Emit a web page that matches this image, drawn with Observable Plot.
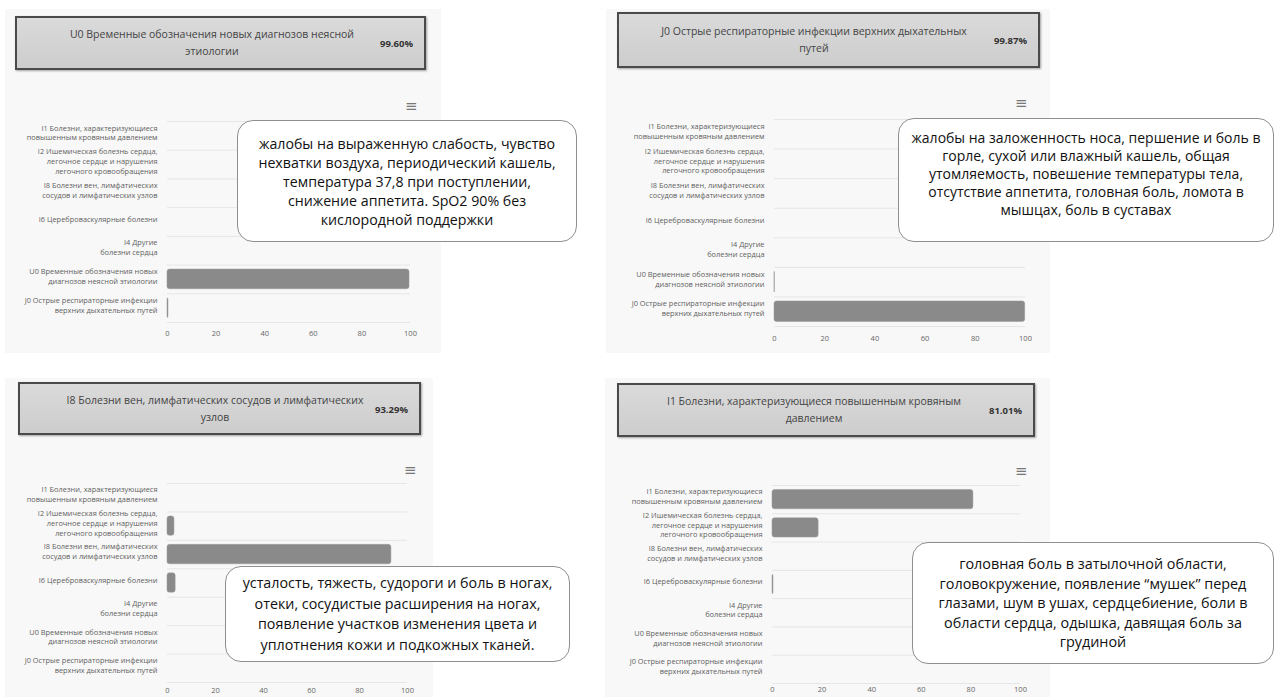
<!DOCTYPE html>
<html><head><meta charset="utf-8">
<script src="https://cdn.jsdelivr.net/npm/d3@7"></script>
<script src="https://cdn.jsdelivr.net/npm/@observablehq/plot@0.6"></script>
<style>
html,body{margin:0;padding:0;background:#fff}
body{width:1275px;height:697px;overflow:hidden;position:relative;font-family:"Open Sans",sans-serif}
.panel{position:absolute;background:#f8f8f8}
.title{position:absolute;box-sizing:border-box;border:2px solid #4a4a4a;background:linear-gradient(#dadada,#cdcdcd);box-shadow:1px 1px 2px rgba(0,0,0,.35);color:#444;font-size:10.5px}
.title .t{position:absolute;top:50%;transform:translateY(-50%);text-align:center;line-height:17px;white-space:pre-line}
.title .p{position:absolute;top:50%;transform:translateY(-50%);font-weight:bold;font-size:9.5px;color:#333}
.menu{position:absolute;color:#777;font-family:"DejaVu Sans",sans-serif;font-size:15px;line-height:15px}
.note{position:absolute;box-sizing:border-box;background:#fff;border:1px solid #8f8f8f;border-radius:16px;display:flex;align-items:center;justify-content:center;text-align:center;font-size:14px;color:#111;white-space:pre-line}
svg.chart{position:absolute;overflow:visible}
</style></head><body>
<script>
// ---- data ----
const categories = [
  "I1 Болезни, характеризующиеся\nповышенным кровяным давлением",
  "I2 Ишемическая болезнь сердца,\nлегочное сердце и нарушения\nлегочного кровообращения",
  "I8 Болезни вен, лимфатических\nсосудов и лимфатических узлов",
  "I6 Цереброваскулярные болезни",
  "I4 Другие\nболезни сердца",
  "U0 Временные обозначения новых\nдиагнозов неясной этиологии",
  "J0 Острые респираторные инфекции\nверхних дыхательных путей"
];
const xTicks = [0, 20, 40, 60, 80, 100];

const valuesU0 = [0, 0, 0, 0, 0, 99.60, 0.40];
const valuesJ0 = [0, 0, 0, 0, 0, 0.13, 99.87];
const valuesI8 = [0, 2.9, 93.29, 3.4, 0, 0, 0];
const valuesI1 = [81.01, 18.6, 0, 0.39, 0, 0, 0];

const titles = [
  "U0 Временные обозначения новых диагнозов неясной\nэтиологии",
  "J0 Острые респираторные инфекции верхних дыхательных\nпутей",
  "I8 Болезни вен, лимфатических сосудов и лимфатических\nузлов",
  "I1 Болезни, характеризующиеся повышенным кровяным\nдавлением"
];
const percents = ["99.60%", "99.87%", "93.29%", "81.01%"];
const notes = [
  "жалобы на выраженную слабость, чувство\nнехватки воздуха, периодический кашель,\nтемпература 37,8 при поступлении,\nснижение аппетита. SpO2 90% без\nкислородной поддержки",
  "жалобы на заложенность носа, першение и боль в\nгорле, сухой или влажный кашель, общая\nутомляемость, повешение температуры тела,\nотсутствие аппетита, головная боль, ломота в\nмышцах, боль в суставах",
  "усталость, тяжесть, судороги и боль в ногах,\nотеки, сосудистые расширения на ногах,\nпоявление участков изменения цвета и\nуплотнения кожи и подкожных тканей.",
  "головная боль в затылочной области,\nголовокружение, появление “мушек” перед\nглазами, шум в ушах, сердцебиение, боли в\nобласти сердца, одышка, давящая боль за\nгрудиной"
];
const seriesList = [valuesU0, valuesJ0, valuesI8, valuesI1];

// ---- layout (page pixels) ----
const layouts = [
  {bg:[5,9,436,344], title:[15,16,411,54], menu:[405,99], plot:[167,121,243,201], xpad:8, note:[237,120,340,122], lh:19, fs:14.2, pb:0},
  {bg:[606,9,444,344], title:[617,12,423,56], menu:[1015,96], plot:[774,119,251,207], xpad:9, note:[898,118,376,124], lh:18, fs:14, pb:12},
  {bg:[5,378,428,319], title:[18,382,403,53], menu:[404,463], plot:[167,483,240,199], xpad:5, note:[225,566,345,96], lh:20.5, fs:14.3, pb:0},
  {bg:[605,378,445,319], title:[617,383,418,54], menu:[1015,464], plot:[772,485,248,198], xpad:3, note:[912,542,362,122], lh:19.5, fs:14.4, pb:0}
];

function el(cls, [l, t, w, h]) {
  const d = document.createElement("div");
  d.className = cls;
  d.style.left = l + "px"; d.style.top = t + "px";
  if (w != null) d.style.width = w + "px";
  if (h != null) d.style.height = h + "px";
  document.body.appendChild(d);
  return d;
}

function drawChart(values, [pl, pt, pw, ph], xpad) {
  const mL = 160, mR = 20, mT = 6, mB = 26;
  const data = values.map((v, i) => ({i, v})).filter(d => d.v > 0);
  const svg = Plot.plot({
    width: mL + pw + mR, height: mT + ph + mB,
    marginLeft: mL, marginRight: mR, marginTop: mT, marginBottom: mB,
    style: {background: "transparent", fontFamily: "Open Sans, sans-serif", color: "#666", overflow: "visible"},
    x: {domain: [0, 100], label: null},
    y: {domain: [categories.length - 0.5, -0.5], label: null},
    marks: [
      Plot.ruleY(d3.range(categories.length + 1).map(k => k - 0.5), {stroke: "#e6e6e6", strokeWidth: 1}),
      Plot.rect(data, {x1: 0, x2: "v", y1: d => d.i - 0.5, y2: d => d.i + 0.5, insetTop: 4.5, insetBottom: 4.5, fill: "#8a8a8a", stroke: "#9a9a9a", strokeWidth: 0.5, rx: 2.5}),
      Plot.axisX({ticks: xTicks, tickSize: 0, tickPadding: xpad, fontSize: 7.5, tickFormat: d => String(d), fill: "#666", label: null}),
      Plot.axisY({ticks: d3.range(categories.length), tickFormat: i => categories[i], tickSize: 0, tickPadding: 10, fontSize: 7.4, lineHeight: 1.33, dy: -3.5, fill: "#5f5f5f", label: null})
    ]
  });
  svg.classList.add("chart");
  svg.style.left = (pl - mL) + "px";
  svg.style.top = (pt - mT) + "px";
  document.body.appendChild(svg);
}

layouts.forEach((L, k) => {
  el("panel", L.bg);
  const tb = el("title", L.title);
  const t = document.createElement("div");
  t.className = "t"; t.textContent = titles[k];
  t.style.left = "0px"; t.style.width = (2 * 195) + "px";
  tb.appendChild(t);
  const p = document.createElement("div");
  p.className = "p"; p.textContent = percents[k];
  p.style.right = "11px";
  tb.appendChild(p);
  el("menu", L.menu).textContent = "≡";
  drawChart(seriesList[k], L.plot, L.xpad);
  const n = el("note", L.note);
  n.style.lineHeight = L.lh + "px";
  n.style.fontSize = L.fs + "px";
  n.style.paddingBottom = L.pb + "px";
  n.textContent = notes[k];
});
</script>
</body></html>
